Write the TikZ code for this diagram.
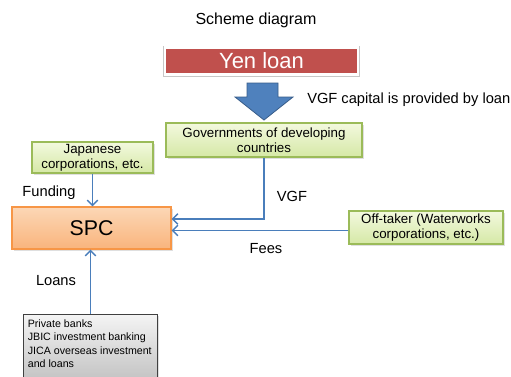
\documentclass[tikz,border=0pt]{standalone}
\usepackage{fontspec}
\setmainfont{Liberation Sans}
\usetikzlibrary{arrows.meta,shadows}
\definecolor{conncol}{HTML}{4A7EBB}
\definecolor{yenred}{HTML}{C0504D}
\definecolor{arrowblue}{HTML}{4F81BD}
\definecolor{arrowedge}{HTML}{385D8A}
\definecolor{greentop}{HTML}{F3F9DE}
\definecolor{greenbot}{HTML}{D5E8A6}
\definecolor{greenedge}{HTML}{9BBB59}
\definecolor{orangetop}{HTML}{FCD7B6}
\definecolor{orangebot}{HTML}{F9B47C}
\definecolor{orangeedge}{HTML}{F79646}
\definecolor{graytop}{HTML}{F4F4F4}
\definecolor{graybot}{HTML}{BEBEBE}
\tikzset{
  shad/.style={drop shadow={opacity=0.25,shadow xshift=1.2pt,shadow yshift=-1.2pt}},
  greenbox/.style={shad,draw=greenedge,line width=0.8pt,top color=greentop,bottom color=greenbot,
    align=center,font=\fontsize{10}{11.5}\selectfont,inner sep=1pt},
  conn/.style={draw=conncol,line width=1.1pt,-{Straight Barb[length=4pt,width=8pt]}},
  lbl/.style={font=\fontsize{11}{13}\selectfont,inner sep=0pt},
}
\begin{document}
\begin{tikzpicture}[x=0.75pt,y=-0.75pt]
\clip (0,0) rectangle (511,376);
\fill[white] (0,0) rectangle (511,376);
\node[lbl,font=\fontsize{12}{14}\selectfont] (title) at (256,20) {Scheme diagram};
\node[shad,fill=yenred,preaction={draw=black!22,line width=3pt},draw=white,line width=1.6pt,text=white,
  minimum width=144.75pt,minimum height=20.25pt,
  inner sep=0pt,font=\fontsize{16.5}{18}\selectfont] (yen) at (261.5,61) {Yen loan};
\draw[fill=arrowblue,draw=arrowedge,line width=0.6pt]
  (247,83) -- (278,83) -- (278,97) -- (293,97) -- (264,120) -- (235,97) -- (247,97) -- cycle;
\node[lbl,anchor=west] (vgfcap) at (307,100) {VGF capital is provided by loan};
\node[greenbox,minimum width=147pt,minimum height=25.5pt] (gov) at (264,140)
  {Governments of developing\\countries};
\node[greenbox,minimum width=90.75pt,minimum height=23.25pt] (jap) at (92.5,157.5)
  {Japanese\\corporations, etc.};
\node[shad,draw=orangeedge,line width=0.8pt,top color=orangetop,bottom color=orangebot,
  minimum width=119.25pt,minimum height=31.5pt,inner sep=0pt,font=\fontsize{16}{18}\selectfont] (spc) at (91.5,228) {SPC};
\node[greenbox,minimum width=115.5pt,minimum height=24.75pt] (off) at (426,227.5)
  {Off-taker (Waterworks\\corporations, etc.)};
\node[shad,draw=black!75,line width=0.8pt,top color=graytop,bottom color=graybot,anchor=north,
  inner xsep=3pt,inner ysep=4pt] (bot) at (90.5,314)
  {\parbox[t][46pt][t]{94pt}{\fontsize{8}{10}\selectfont Private banks\\JBIC investment banking\\JICA overseas investment\\and loans}};
\node[lbl] (funding) at (49,193) {Funding};
\node[lbl] (vgf) at (292,196) {VGF};
\node[lbl] (fees) at (266,249) {Fees};
\node[lbl] (loans) at (56,281) {Loans};
\draw[conn] (jap.south) -- (jap.south |- spc.north);
\coordinate (vgfin) at ([yshift=6.75pt]spc.east);
\draw[conn] (gov.south) |- (vgfin);
\coordinate (offin) at ([yshift=-2.25pt]off.west);
\draw[conn] (offin) -- (offin -| spc.east);
\draw[conn] (bot.north) -- (bot.north |- spc.south);
\end{tikzpicture}
\end{document}
